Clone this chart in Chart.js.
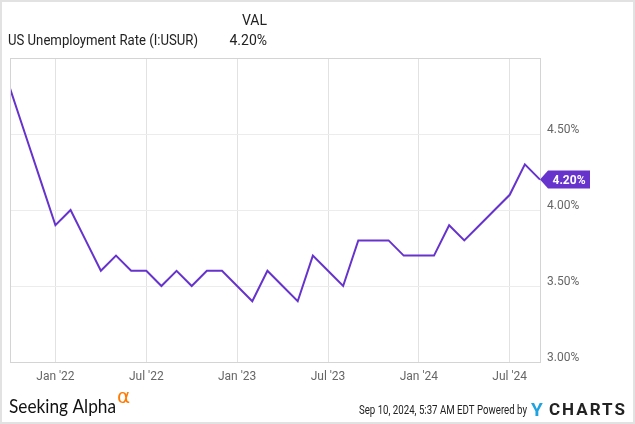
<!DOCTYPE html>
<html>
<head>
<meta charset="utf-8">
<script src="https://cdn.jsdelivr.net/npm/chart.js@4.4.0/dist/chart.umd.min.js"></script>
<style>
  html, body { margin: 0; padding: 0; background: #fff; }
  #wrap { width: 635px; height: 424px; position: relative; }
</style>
</head>
<body>
<div id="wrap"><canvas id="chart" width="635" height="424"></canvas></div>
<script>
// monthly data, Sep 2021 .. Aug 2024 (plotted at month end)
const months = [
  "Sep 2021", "Oct 2021", "Nov 2021", "Dec 2021",
  "Jan 2022", "Feb 2022", "Mar 2022", "Apr 2022", "May 2022", "Jun 2022",
  "Jul 2022", "Aug 2022", "Sep 2022", "Oct 2022", "Nov 2022", "Dec 2022",
  "Jan 2023", "Feb 2023", "Mar 2023", "Apr 2023", "May 2023", "Jun 2023",
  "Jul 2023", "Aug 2023", "Sep 2023", "Oct 2023", "Nov 2023", "Dec 2023",
  "Jan 2024", "Feb 2024", "Mar 2024", "Apr 2024", "May 2024", "Jun 2024",
  "Jul 2024", "Aug 2024"
];
const rates = [
  4.8, 4.5, 4.2, 3.9,
  4.0, 3.8, 3.6, 3.7, 3.6, 3.6,
  3.5, 3.6, 3.5, 3.6, 3.6, 3.5,
  3.4, 3.6, 3.5, 3.4, 3.7, 3.6,
  3.5, 3.8, 3.8, 3.8, 3.7, 3.7,
  3.7, 3.9, 3.8, 3.9, 4.0, 4.1,
  4.3, 4.2
];
// x tick positions (months after Dec 2021 month-end) and labels
const xTickPos = [0, 6, 12, 18, 24, 30];
const xTickLabels = ["Jan '22", "Jul '22", "Jan '23", "Jul '23", "Jan '24", "Jul '24"];
const yTicks = [3.0, 3.5, 4.0, 4.5];

const purple = "#6633cc";
const points = rates.map((v, i) => ({ x: i - 3, y: v }));
const lastVal = rates[rates.length - 1];

// draw text squeezed to a target width (the original uses a narrow face)
function fitText(ctx, text, x, y, width) {
  const w = ctx.measureText(text).width;
  const s = Math.min(1, width / w);
  ctx.save();
  ctx.translate(x, y);
  ctx.scale(s, 1);
  ctx.fillText(text, 0, 0);
  ctx.restore();
}

const framePlugin = {
  id: "frame",
  beforeDraw(chart) {
    const ctx = chart.ctx;
    ctx.save();
    ctx.fillStyle = "#fff";
    ctx.fillRect(0, 0, chart.width, chart.height);
    ctx.restore();
  },
  afterDraw(chart) {
    const ctx = chart.ctx;
    const a = chart.chartArea;
    ctx.save();
    // plot box
    ctx.strokeStyle = "#d4d4d4";
    ctx.lineWidth = 1;
    ctx.strokeRect(Math.round(a.left) + 0.5, Math.round(a.top) + 0.5,
      Math.round(a.right - a.left), Math.round(a.bottom - a.top));
    // outer frame
    ctx.strokeStyle = "#e2e2e2";
    ctx.lineWidth = 2;
    ctx.strokeRect(1, 1, chart.width - 2, chart.height - 2);

    // header
    ctx.fillStyle = "#222";
    ctx.font = "14px Roboto";
    ctx.textBaseline = "middle";
    ctx.textAlign = "right";
    ctx.fillText("VAL", 267, 21);
    ctx.fillText(lastVal.toFixed(2) + "%", 267, 41);
    ctx.textAlign = "left";
    fitText(ctx, "US Unemployment Rate (I:USUR)", 8, 41, 190);

    // last value tag
    const y = chart.scales.y.getPixelForValue(lastVal);
    const x = a.right;
    ctx.fillStyle = purple;
    ctx.beginPath();
    ctx.moveTo(x, y);
    ctx.lineTo(x + 8, y - 9);
    ctx.lineTo(x + 50, y - 9);
    ctx.lineTo(x + 50, y + 9);
    ctx.lineTo(x + 8, y + 9);
    ctx.closePath();
    ctx.fill();
    ctx.fillStyle = "#fff";
    ctx.font = "bold 12px Roboto";
    ctx.textAlign = "center";
    ctx.fillText(lastVal.toFixed(2) + "%", x + 29, y + 1);

    // footer
    ctx.textAlign = "left";
    ctx.fillStyle = "#111";
    ctx.font = "19px Lato";
    fitText(ctx, "Seeking Alpha", 9, 407, 107);
    ctx.fillStyle = "#ff7a00";
    ctx.font = "20px 'DejaVu Sans'";
    ctx.fillText("\u03b1", 117, 398);

    ctx.fillStyle = "#222";
    ctx.font = "12px Roboto";
    fitText(ctx, "Sep 10, 2024, 5:37 AM EDT Powered by", 359, 411, 168);
    ctx.font = "bold 19px Roboto";
    ctx.fillStyle = "#1fa3e0";
    ctx.fillText("Y", 531, 411);
    ctx.fillStyle = "#222";
    ctx.font = "bold 17px Roboto";
    ctx.letterSpacing = "2px";
    ctx.fillText("CHARTS", 549, 411);
    ctx.restore();
  }
};

new Chart(document.getElementById("chart").getContext("2d"), {
  type: "line",
  data: {
    datasets: [
      {
        label: "US Unemployment Rate",
        data: points,
        borderColor: purple,
        borderWidth: 2,
        pointRadius: 0,
        tension: 0,
        fill: false,
      },
    ],
  },
  options: {
    responsive: false,
    animation: false,
    events: [],
    layout: { padding: { left: 10, top: 58, right: 0, bottom: 0 } },
    plugins: {
      legend: { display: false },
      tooltip: { enabled: false },
    },
    scales: {
      x: {
        type: "linear",
        min: -3,
        max: 32,
        afterBuildTicks: (scale) => {
          scale.ticks = xTickPos.map((v) => ({ value: v }));
        },
        afterFit: (scale) => { scale.height = 62; },
        ticks: {
          autoSkip: false,
          maxRotation: 0,
          padding: 8,
          color: "#666",
          font: { family: "Roboto", size: 12 },
          callback: (v) => xTickLabels[xTickPos.indexOf(v)],
        },
        grid: { color: "#e2e2e2", drawTicks: false },
        border: { display: false },
      },
      y: {
        position: "right",
        min: 3.0,
        max: 5.0,
        afterBuildTicks: (scale) => {
          scale.ticks = yTicks.map((v) => ({ value: v }));
        },
        afterFit: (scale) => { scale.width = 95; },
        ticks: {
          padding: 7,
          labelOffset: -4,
          color: "#666",
          font: { family: "Roboto", size: 12 },
          callback: (v) => v.toFixed(2) + "%",
        },
        grid: { color: "#ececec", drawTicks: false },
        border: { display: false },
      },
    },
  },
  plugins: [framePlugin],
});
</script>
</body>
</html>
